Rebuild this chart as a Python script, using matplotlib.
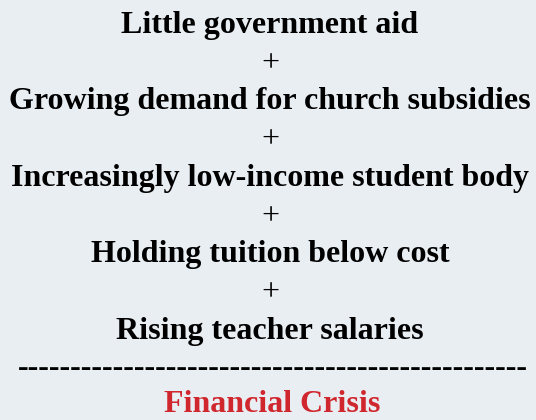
import matplotlib.pyplot as plt

# Contenu du schéma
factors = [
    "Little government aid",
    "Growing demand for church subsidies",
    "Increasingly low-income student body",
    "Holding tuition below cost",
    "Rising teacher salaries",
]
result = "Financial Crisis"
n_dashes = 48

bg = "#e9eef3"
plt.rcParams["font.family"] = ["Liberation Serif", "DejaVu Serif"]

fig = plt.figure(figsize=(5.36, 4.2), dpi=100, facecolor=bg)
ax = fig.add_axes([0, 0, 1, 1])
ax.set_facecolor(bg)
ax.set_xlim(0, 536)
ax.set_ylim(420, 0)
ax.axis("off")

fs = 23
step = 38.3
y = 25
for i, f in enumerate(factors):
    ax.text(270, y, f, ha="center", va="center", fontsize=fs, fontweight="bold")
    y += step
    if i < len(factors) - 1:
        ax.text(270, y, "+", ha="center", va="center", fontsize=fs)
        y += step

ax.text(273, 369, "-" * n_dashes, ha="center", va="center", fontsize=fs, fontweight="bold")
ax.text(272, 405, result, ha="center", va="center", fontsize=fs,
        fontweight="bold", color="#d0262d")

fig.savefig("out.png", dpi=100, facecolor=bg)
